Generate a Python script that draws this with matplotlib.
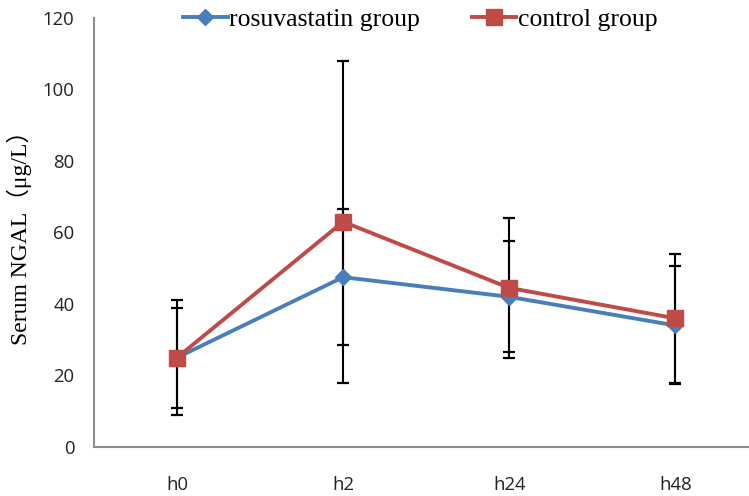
import matplotlib.pyplot as plt
import numpy as np

# --- Data ---
timepoints = ["h0", "h2", "h24", "h48"]
rosu_mean = [25.0, 47.5, 42.0, 34.0]
rosu_sd = [14.0, 19.0, 15.5, 16.5]
ctrl_mean = [25.0, 63.0, 44.5, 36.0]
ctrl_sd = [16.0, 45.0, 19.5, 18.0]

BLUE = "#4A7EBB"
RED = "#BE4B48"
AXIS_GRAY = "#8C8C8C"

fig = plt.figure(figsize=(7.49, 4.96), dpi=100)
ax = fig.add_axes([0.1255, 0.0988, 0.887, 0.865])

x = np.arange(len(timepoints))

ax.errorbar(x, rosu_mean, yerr=rosu_sd, fmt="none", ecolor="black",
            elinewidth=1.5, capsize=4, capthick=1.6, zorder=2)
ax.errorbar(x, ctrl_mean, yerr=ctrl_sd, fmt="none", ecolor="black",
            elinewidth=1.5, capsize=4, capthick=1.6, zorder=2)

ax.plot(x, rosu_mean, color=BLUE, lw=2.8, marker="D", markersize=8,
        markerfacecolor=BLUE, markeredgecolor=BLUE, label="rosuvastatin group", zorder=3)
ax.plot(x, ctrl_mean, color=RED, lw=2.8, marker="s", markersize=11.5,
        markerfacecolor=RED, markeredgecolor=RED, label="control group", zorder=4)

ax.set_xlim(-0.5, 3.5)
ax.set_ylim(0, 120)
ax.set_yticks(range(0, 121, 20))
ax.set_xticks(x)
ax.set_xticklabels(timepoints)

for side in ["top", "right"]:
    ax.spines[side].set_visible(False)
for side in ["left", "bottom"]:
    ax.spines[side].set_color(AXIS_GRAY)
    ax.spines[side].set_linewidth(1.5)

ax.tick_params(axis="both", length=0, labelsize=13.3, colors="#222222",
               labelfontfamily="Open Sans")
ax.tick_params(axis="y", pad=14)
ax.tick_params(axis="x", pad=21)

ax.set_ylabel("Serum NGAL（μg/L）", fontsize=17,
              family=["Liberation Serif", "Noto Sans CJK SC"])
ax.yaxis.set_label_coords(-0.093, 0.5)

ax.legend(loc="center", bbox_to_anchor=(0.561, 0.96), bbox_transform=fig.transFigure,
          ncol=2, frameon=False, prop={"family": "Liberation Serif", "size": 18.5},
          handlelength=1.75, handletextpad=0.05, columnspacing=2.0)

fig.savefig("out.png", dpi=100)
